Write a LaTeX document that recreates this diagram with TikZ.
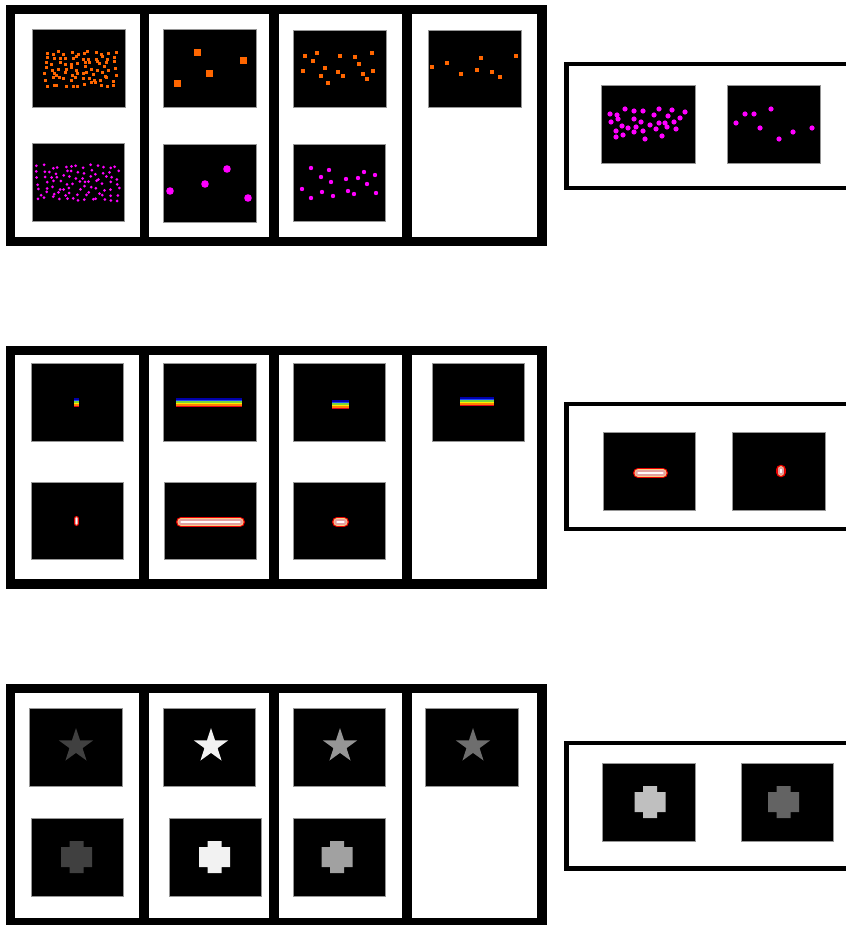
\documentclass[tikz,border=0pt]{standalone}
\usetikzlibrary{calc}
\definecolor{dotorange}{RGB}{255,102,0}
\definecolor{dotmag}{RGB}{255,0,255}
\definecolor{rbA}{RGB}{0,0,170}
\definecolor{rbB}{RGB}{30,70,255}
\definecolor{rbC}{RGB}{120,215,60}
\definecolor{rbD}{RGB}{255,235,0}
\definecolor{rbE}{RGB}{255,130,0}
\definecolor{rbF}{RGB}{225,0,30}
\definecolor{capred}{RGB}{235,0,0}
\definecolor{capyel}{RGB}{255,205,130}
\definecolor{cappink}{RGB}{225,160,160}
\definecolor{imgedge}{RGB}{150,150,150}
\newcommand\imgbox[4]{\filldraw[imgstyle] (#1,#2) rectangle (#3,#4);}
\newcommand\osq[3]{\fill[dotorange] ({#1-#3/2},{#2-#3/2}) rectangle ({#1+#3/2},{#2+#3/2});}
\newcommand\mdot[3]{\fill[dotmag] (#1,#2) circle[radius=#3];}
\newcommand\rbar[4]{%
  \foreach \cc [count=\ii from 0] in {rbA,rbB,rbC,rbD,rbE,rbF}{%
    \fill[\cc] (#1,{#2+\ii*(#4-#2)/6}) rectangle (#3,{#2+(\ii+1)*(#4-#2)/6});}}
\newcommand\capsl[5]{%
  \draw[capred, line cap=round, line width=(#5)*1pt] (#1,#2) -- (#3,#4);
  \draw[capyel, line cap=round, line width=(#5)*0.72pt] (#1,#2) -- (#3,#4);
  \draw[cappink, line cap=round, line width=(#5)*0.55pt] (#1,#2) -- (#3,#4);
  \draw[white!90!pink, line cap=round, line width=(#5)*0.12pt] (#1,#2) -- (#3,#4);}
\newcommand\mystar[3]{\fill[#3, shift={(#1,#2)}] (-90:18) -- (-54:6.9) -- (-18:18) -- (18:6.9) -- (54:18) -- (90:6.9) -- (126:18) -- (162:6.9) -- (198:18) -- (234:6.9) -- cycle;}
\newcommand\mycross[3]{\fill[#3, shift={(#1,#2)}] (-7,-16) -- (7,-16) -- (7,-10) -- (15.5,-10) -- (15.5,10) -- (7,10) -- (7,16) -- (-7,16) -- (-7,10) -- (-15.5,10) -- (-15.5,-10) -- (-7,-10) -- cycle;}
\begin{document}
\begin{tikzpicture}[x=1pt,y=-1pt,
  panel/.style={draw=black,line width=9.5pt},
  divider/.style={draw=black,line width=9.5pt},
  rpanel/.style={draw=black,line width=4.5pt},
  imgstyle/.style={fill=black,draw=imgedge,line width=0.8pt}]
\useasboundingbox[fill=white] (0,0) rectangle (845,925);

% ===================== ROW 1 =====================
\draw[panel] (10.5,9.5) rectangle (542,241.5);
\foreach \xd in {144.5,274,407}{\draw[divider] (\xd,9.5) -- (\xd,241.5);}
\imgbox{32}{29}{125}{107}
\imgbox{32}{143}{124}{221}
\imgbox{163}{29}{256}{107}
\imgbox{163}{144}{256}{222}
\imgbox{293}{30}{386}{107}
\imgbox{293}{144}{385}{221}
\imgbox{428}{30}{521}{107}
% col1 top many orange squares (jittered grid)
\pgfmathsetseed{11}
\foreach \gx in {0,...,11}{\foreach \gy in {0,...,6}{%
  \pgfmathsetmacro\px{46+\gx*6.2+2.6*rand}\pgfmathsetmacro\py{53+\gy*5.3+2.3*rand}%
  \osq{\px}{\py}{3}}}
% col1 bottom many magenta dots (jittered grid)
\pgfmathsetseed{23}
\foreach \gx in {0,...,12}{\foreach \gy in {0,...,6}{%
  \pgfmathsetmacro\px{39+\gx*6.5+2.7*rand}\pgfmathsetmacro\py{167+\gy*5.3+2.3*rand}%
  \mdot{\px}{\py}{1.5}}}
% col2
\osq{197}{53}{7}\osq{243}{61}{7}\osq{209}{74}{7}\osq{177}{84}{7}
\mdot{227}{169}{3.8}\mdot{205}{184}{3.8}\mdot{170}{191}{3.8}\mdot{248}{198}{3.8}
% col3
\foreach \a/\b in {305/56,317/53,313/61,303/71,325/68,321/76,328/83,340/56,338/72,343/76,355/57,359/64,372/53,363/74,373/71,367/79}{\osq{\a}{\b}{4}}
\foreach \a/\b in {311/168,329/170,321/177,331/182,346/179,358/178,364/172,375/175,367/184,302/189,322/192,311/198,333/196,348/191,354/194,376/193}{\mdot{\a}{\b}{2.2}}
% col4
\foreach \a/\b in {432/67,447/63,461/74,481/58,477/70,492/72,500/77,516/56}{\osq{\a}{\b}{4.6}}
% right panel 1
\draw[rpanel] (566.5,64) rectangle (875,188);
\imgbox{601}{85}{695}{163}
\imgbox{727}{85}{820}{163}
\foreach \a/\b in {610/114,617/115,625/109,634/111,643/111,659/109,672/110,685/112,654/115,668/116,680/118,618/119,634/119,641/122,611/122,650/125,659/123,665/123,674/122,622/126,628/128,636/127,667/127,676/129,616/131,634/132,643/131,656/129,623/135,616/137,662/136,645/139}{\mdot{\a}{\b}{2.6}}
\foreach \a/\b in {736/123,745/114,754/114,771/109,760/128,779/139,793/132,812/128}{\mdot{\a}{\b}{2.6}}

% ===================== ROW 2 =====================
\draw[panel] (10.5,350.5) rectangle (542,584);
\foreach \xd in {144,274,407}{\draw[divider] (\xd,350.5) -- (\xd,584);}
\imgbox{31}{363}{123}{441}
\imgbox{31}{482}{123}{559}
\imgbox{163}{363}{256}{441}
\imgbox{164}{482}{256}{559}
\imgbox{293}{363}{385}{441}
\imgbox{293}{482}{385}{559}
\imgbox{432}{363}{524}{441}
\rbar{74}{398}{79}{407}
\rbar{176}{398}{242}{407}
\rbar{332}{400}{349}{409}
\rbar{460}{397}{494}{406}
\capsl{76.5}{518.5}{76.5}{523.5}{5}
\capsl{181}{522}{240}{522}{10}
\capsl{337}{522}{344}{522}{10}
% right panel 2
\draw[rpanel] (566.5,404) rectangle (875,529);
\imgbox{603}{432}{695}{510}
\imgbox{732}{432}{825}{510}
\capsl{638}{473}{663}{473}{10}
\capsl{781}{469.5}{781}{472.5}{9.5}

% ===================== ROW 3 =====================
\draw[panel] (10.5,688.5) rectangle (542,922.5);
\foreach \xd in {144,274,407}{\draw[divider] (\xd,688.5) -- (\xd,922.5);}
\imgbox{29}{708}{122}{786}
\imgbox{31}{818}{123}{896}
\imgbox{163}{708}{255}{786}
\imgbox{169}{818}{261}{896}
\imgbox{293}{708}{385}{786}
\imgbox{293}{818}{385}{896}
\imgbox{425}{708}{518}{786}
\mystar{76}{746}{black!75}
\mystar{211}{746}{black!5}
\mystar{340}{746}{black!41}
\mystar{473}{746}{black!57}
\mycross{76.5}{857}{black!75}
\mycross{214.5}{857}{black!5}
\mycross{337}{857}{black!37}
% right panel 3
\draw[rpanel] (566.5,743) rectangle (875,868.5);
\imgbox{602}{763}{695}{841}
\imgbox{741}{763}{833}{841}
\mycross{650}{802}{black!25}
\mycross{783.5}{802}{black!61}
\end{tikzpicture}
\end{document}
